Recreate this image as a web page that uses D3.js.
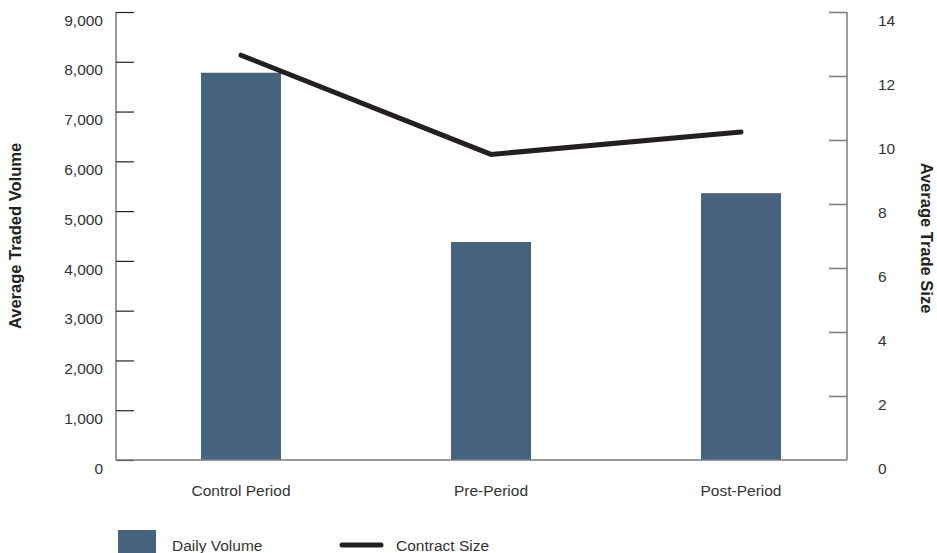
<!DOCTYPE html>
<html>
<head>
<meta charset="utf-8">
<script src="https://cdn.jsdelivr.net/npm/d3@7"></script>
<style>
  html, body { margin: 0; padding: 0; background: #fff; }
  svg { display: block; font-family: "Liberation Sans", Arial, Helvetica, sans-serif; }
</style>
</head>
<body>
<svg id="chart" width="937" height="553"></svg>
<script>
// Periods, daily volume (bars, left axis) and contract size (line, right axis)
const categories = ["Control Period", "Pre-Period", "Post-Period"];
const dailyVolume = [7780, 4380, 5360];
const contractSize = [12.65, 9.55, 10.25];
const volumeTicks = [0, 1000, 2000, 3000, 4000, 5000, 6000, 7000, 8000, 9000];
const sizeTicks = [0, 2, 4, 6, 8, 10, 12, 14];

(function () {
  const svg = d3.select("#chart");
  const plotLeft = 116, plotRight = 847, plotTop = 12, plotBottom = 460;

  const x = d3.scaleBand().domain(categories).range([plotLeft, plotLeft + 750])
    .paddingInner(0.68).paddingOuter(0.34);
  const yL = d3.scaleLinear().domain([0, 9000]).range([plotBottom, plotTop]);
  const yR = d3.scaleLinear().domain([0, 14]).range([plotBottom, plotTop]);

  const textColor = "#333";
  const fs = "15.5px";

  // Bars
  svg.append("g").selectAll("rect").data(categories).join("rect")
    .attr("x", d => x(d))
    .attr("width", x.bandwidth())
    .attr("y", (d, i) => yL(dailyVolume[i]))
    .attr("height", (d, i) => plotBottom - yL(dailyVolume[i]))
    .attr("fill", "#46647e");

  // Left axis
  const gL = svg.append("g").attr("transform", `translate(${plotLeft},0)`)
    .call(d3.axisRight(yL).tickValues(volumeTicks).tickSize(18).tickFormat(d3.format(",")));
  gL.select(".domain").attr("stroke", "#7a7a7a").attr("stroke-width", 1.5).attr("d", `M0,${plotTop}V${plotBottom}`);
  gL.selectAll(".tick line").attr("stroke", "#222").attr("stroke-width", 1.2);
  gL.selectAll(".tick text")
    .attr("x", -13).attr("dy", "0.85em").attr("text-anchor", "end")
    .attr("fill", textColor).style("font-size", fs);

  // Right axis
  const gR = svg.append("g").attr("transform", `translate(${plotRight},0)`)
    .call(d3.axisLeft(yR).tickValues(sizeTicks).tickSize(18));
  gR.select(".domain").attr("stroke", "#7a7a7a").attr("stroke-width", 1.5).attr("d", `M0,${plotTop}V${plotBottom}`);
  gR.selectAll(".tick line").attr("stroke", "#7a7a7a").attr("stroke-width", 1.5);
  gR.selectAll(".tick text")
    .attr("x", 31).attr("dy", "0.85em").attr("text-anchor", "start")
    .attr("fill", textColor).style("font-size", fs);
  gR.selectAll(".tick").filter(d => d === 0).select("line").remove();

  // Baseline
  svg.append("line")
    .attr("x1", plotLeft).attr("x2", plotRight).attr("y1", plotBottom).attr("y2", plotBottom)
    .attr("stroke", "#7a7a7a").attr("stroke-width", 1.5);

  // Category labels
  svg.append("g").selectAll("text").data(categories).join("text")
    .attr("x", d => x(d) + x.bandwidth() / 2)
    .attr("y", 496)
    .attr("text-anchor", "middle")
    .attr("fill", textColor).style("font-size", fs)
    .text(d => d);

  // Contract size line
  const line = d3.line()
    .x((d, i) => x(categories[i]) + x.bandwidth() / 2)
    .y(d => yR(d));
  svg.append("path").datum(contractSize)
    .attr("d", line)
    .attr("fill", "none").attr("stroke", "#231f20").attr("stroke-width", 5)
    .attr("stroke-linecap", "round").attr("stroke-linejoin", "miter");

  // Axis titles
  svg.append("text")
    .attr("transform", `translate(21,${(plotTop + plotBottom) / 2}) rotate(-90)`)
    .attr("text-anchor", "middle").attr("font-weight", "bold")
    .attr("fill", "#222").style("font-size", "16.5px")
    .text("Average Traded Volume");
  svg.append("text")
    .attr("transform", `translate(921,${(plotTop + plotBottom) / 2 + 2}) rotate(90)`)
    .attr("text-anchor", "middle").attr("font-weight", "bold")
    .attr("fill", "#222").style("font-size", "16.5px")
    .text("Average Trade Size");

  // Legend
  const lg = svg.append("g");
  lg.append("rect").attr("x", 118).attr("y", 530).attr("width", 38).attr("height", 24).attr("fill", "#46647e");
  lg.append("text").attr("x", 172).attr("y", 551).attr("fill", textColor).style("font-size", fs).text("Daily Volume");
  lg.append("line").attr("x1", 342).attr("x2", 381).attr("y1", 545).attr("y2", 545)
    .attr("stroke", "#231f20").attr("stroke-width", 5).attr("stroke-linecap", "round");
  lg.append("text").attr("x", 396).attr("y", 551).attr("fill", textColor).style("font-size", fs).text("Contract Size");
})();
</script>
</body>
</html>
